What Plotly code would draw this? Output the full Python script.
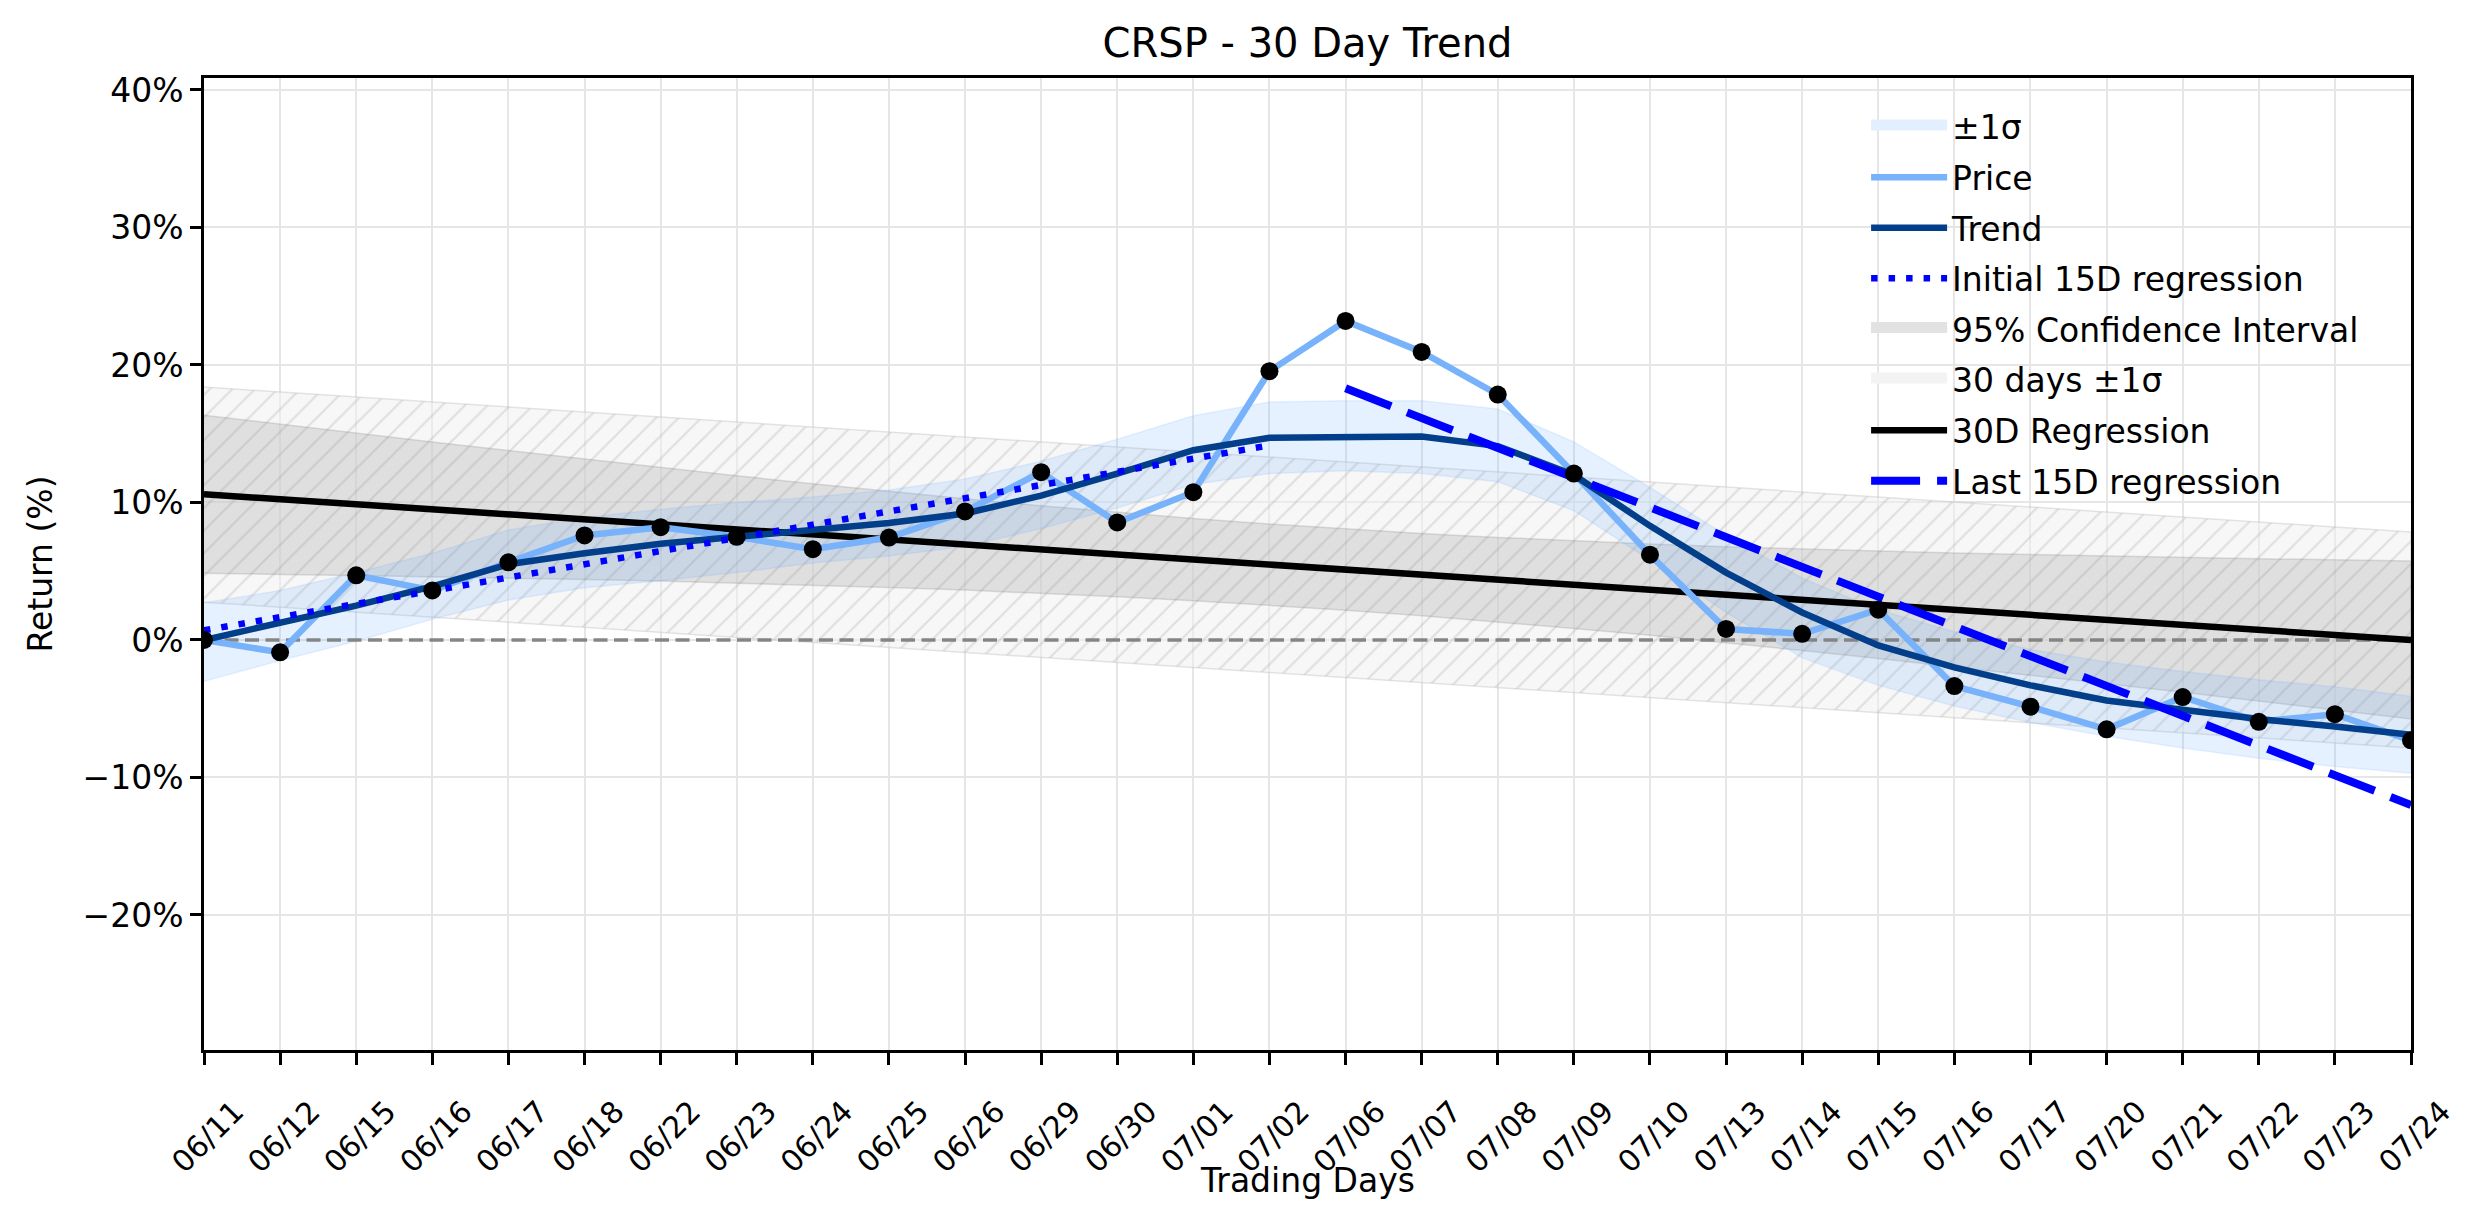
import plotly.graph_objects as go

# ---------------- data ----------------
dates = ["06/11", "06/12", "06/15", "06/16", "06/17", "06/18", "06/22", "06/23",
         "06/24", "06/25", "06/26", "06/29", "06/30", "07/01", "07/02", "07/06",
         "07/07", "07/08", "07/09", "07/10", "07/13", "07/14", "07/15", "07/16",
         "07/17", "07/20", "07/21", "07/22", "07/23", "07/24"]

price = [0.0, -0.9, 4.7, 3.6, 5.65, 7.6, 8.2, 7.5, 6.6, 7.45, 9.35, 12.2, 8.55, 10.75,
         19.55, 23.2, 20.95, 17.85, 12.1, 6.2, 0.8, 0.45, 2.2, -3.35, -4.85, -6.5,
         -4.15, -5.95, -5.4, -7.3]

trend = [0.0, 1.2, 2.5, 3.9, 5.5, 6.3, 7.0, 7.5, 8.0, 8.5, 9.2, 10.5, 12.1, 13.8,
         14.7, 14.8, 14.8, 14.1, 12.0, 8.3, 4.9, 2.0, -0.4, -2.0, -3.3, -4.4, -5.1,
         -5.75, -6.3, -6.9]

sigma_upper = [2.7, 3.6, 4.9, 6.3, 8.0, 8.9, 9.5, 10.0, 10.4, 10.9, 11.7, 13.0, 14.6,
               16.3, 17.3, 17.4, 17.4, 16.8, 14.4, 11.1, 7.6, 4.5, 2.2, 0.6, -0.7,
               -1.6, -2.3, -2.9, -3.4, -4.1]
sigma_lower = [-3.0, -1.5, -0.1, 1.5, 2.9, 3.8, 4.3, 4.9, 5.6, 6.1, 6.8, 8.1, 9.6,
               11.3, 12.1, 12.3, 12.1, 11.5, 9.4, 5.8, 2.0, -1.3, -3.3, -4.8, -6.0,
               -7.0, -7.85, -8.6, -9.2, -9.7]

ci_upper = [16.35, 15.69, 15.05, 14.40, 13.78, 13.15, 12.54, 11.94, 11.37, 10.80,
            10.27, 9.76, 9.28, 8.84, 8.43, 8.07, 7.74, 7.46, 7.20, 6.98, 6.78, 6.61,
            6.46, 6.32, 6.21, 6.10, 6.00, 5.91, 5.83, 5.75]
ci_lower = [4.85, 4.77, 4.69, 4.60, 4.50, 4.39, 4.28, 4.14, 3.99, 3.82, 3.63, 3.40,
            3.14, 2.86, 2.53, 2.17, 1.76, 1.32, 0.84, 0.34, -0.20, -0.77, -1.34, -1.94,
            -2.55, -3.18, -3.80, -4.45, -5.09, -5.75]

reg30_ends = [10.6, 0.0]            # 30D regression, first and last day
hatch_upper_ends = [18.4, 7.85]     # 30 days +1 sigma
hatch_lower_ends = [2.75, -7.85]    # 30 days -1 sigma
init15_ends = [0.7, 14.15]          # initial 15D regression (day 0 .. day 14)
last15_ends = [18.3, -12.0]         # last 15D regression (day 15 .. day 29)
zero_level = 0.0

y_tick_vals = [-20, -10, 0, 10, 20, 30, 40]
y_tick_text = ["\u221220%", "\u221210%", "0%", "10%", "20%", "30%", "40%"]

# ---------------- styles ----------------
FONT = "DejaVu Sans"
SIGMA_FILL = "rgba(100,170,255,0.17)"
SIGMA_EDGE = "rgba(100,170,255,0.14)"
CI_FILL = "rgba(128,128,128,0.2)"
CI_EDGE = "rgba(128,128,128,0.24)"
HATCH_BG = "rgba(240,240,240,0.5)"
HATCH_FG = "rgba(150,150,150,0.5)"
HATCH_EDGE = "rgba(190,190,190,0.4)"

idx = list(range(len(dates)))
first, last = idx[0], idx[-1]

fig = go.Figure()

# 30 days +/-1 sigma (hatched)
fig.add_trace(go.Scatter(
    x=[first, last, last, first], y=hatch_upper_ends + hatch_lower_ends[::-1],
    fill="toself", mode="lines", name="30 days \u00b11\u03c3", showlegend=False,
    line=dict(color=HATCH_EDGE, width=1.5), fillcolor=HATCH_BG,
    fillpattern=dict(shape="/", bgcolor=HATCH_BG, fgcolor=HATCH_FG, size=16,
                     solidity=0.14),
    hoverinfo="skip"))

# 95% confidence interval
fig.add_trace(go.Scatter(
    x=idx + idx[::-1], y=ci_upper + ci_lower[::-1],
    fill="toself", mode="lines", name="95% Confidence Interval", showlegend=False,
    line=dict(color=CI_EDGE, width=1.5), fillcolor=CI_FILL, hoverinfo="skip"))

# +/-1 sigma band around trend
fig.add_trace(go.Scatter(
    x=idx + idx[::-1], y=sigma_upper + sigma_lower[::-1],
    fill="toself", mode="lines", name="\u00b11\u03c3", showlegend=False,
    line=dict(color=SIGMA_EDGE, width=1.5), fillcolor=SIGMA_FILL, hoverinfo="skip"))

# zero reference line
fig.add_trace(go.Scatter(
    x=[first, last], y=[zero_level, zero_level], mode="lines", showlegend=False,
    line=dict(color="rgba(128,128,128,0.95)", width=3.5, dash="14px,6.5px"),
    hoverinfo="skip"))

# 30D regression
fig.add_trace(go.Scatter(
    x=[first, last], y=reg30_ends, mode="lines", name="30D Regression",
    line=dict(color="black", width=6.5), legendrank=7, legendgroup="g7"))

# Price
fig.add_trace(go.Scatter(
    x=idx, y=price, mode="lines", name="Price",
    line=dict(color="#77b2fb", width=6.5), legendrank=2, legendgroup="g2"))

# Trend
fig.add_trace(go.Scatter(
    x=idx, y=trend, mode="lines", name="Trend",
    line=dict(color="#023e8a", width=6.5), legendrank=3, legendgroup="g3"))

# Initial 15D regression
fig.add_trace(go.Scatter(
    x=[idx[0], idx[14]], y=init15_ends, mode="lines", name="Initial 15D regression",
    line=dict(color="#0000ff", width=6.5, dash="6.5px,11px"), legendrank=4,
    legendgroup="g4"))

# Last 15D regression
fig.add_trace(go.Scatter(
    x=[idx[15], idx[-1]], y=last15_ends, mode="lines", name="Last 15D regression",
    line=dict(color="#0000ff", width=8, dash="49px,17px"), legendrank=8,
    legendgroup="g8"))

# price markers
fig.add_trace(go.Scatter(
    x=idx, y=price, mode="markers", showlegend=False,
    marker=dict(color="black", size=18)))

# legend entries for the filled areas (wide swatches)
swatches = [
    ("\u00b11\u03c3", "#e2effe", 1),
    ("95% Confidence Interval", "#e2e2e2", 5),
    ("30 days \u00b11\u03c3", "#f3f3f3", 6),
]
for name, col, rank in swatches:
    fig.add_trace(go.Scatter(
        x=[None], y=[None], mode="lines", name=name, fill="toself", fillcolor=col,
        line=dict(color=col, width=22), legendrank=rank, legendgroup="g%d" % rank,
        hoverinfo="skip"))

fig.update_layout(
    width=2474, height=1224,
    margin=dict(l=204, r=63, t=78, b=174, autoexpand=False),
    paper_bgcolor="white", plot_bgcolor="white",
    font=dict(family=FONT, color="black", size=33),
    title=dict(text="CRSP - 30 Day Trend", x=0.5, xref="paper", y=1 - 43 / 1224,
               yref="container", xanchor="center", yanchor="middle",
               font=dict(size=40, family=FONT, color="black")),
    showlegend=True,
    legend=dict(x=0.7531, y=0.9788, xanchor="left", yanchor="top",
                bgcolor="rgba(0,0,0,0)", borderwidth=0,
                font=dict(size=33, family=FONT, color="black"),
                itemwidth=76, tracegroupgap=4.7, traceorder="grouped"),
    annotations=[dict(text="Trading Days", xref="paper", yref="paper", x=0.5, y=0,
                      xanchor="center", yanchor="middle", yshift=-130,
                      showarrow=False,
                      font=dict(size=33, family=FONT, color="black"))],
)

fig.update_xaxes(
    range=[first, last], tickmode="array", tickvals=idx, ticktext=dates,
    tickangle=-45, tickfont=dict(size=30, family=FONT, color="black"),
    ticks="outside", ticklen=12, tickwidth=2.7, tickcolor="black",
    showline=True, linecolor="black", linewidth=2.7, mirror=True,
    showgrid=True, gridcolor="#e6e6e6", gridwidth=2,
    zeroline=False, ticklabelshift=31, ticklabelstandoff=17,
)
fig.update_yaxes(
    range=[-29.82, 40.87], tickmode="array", tickvals=y_tick_vals, ticktext=y_tick_text,
    tickfont=dict(size=33, family=FONT, color="black"),
    ticks="outside", ticklen=11, tickwidth=2.7, tickcolor="black",
    showline=True, linecolor="black", linewidth=2.7, mirror=True,
    showgrid=True, gridcolor="#e6e6e6", gridwidth=2,
    zeroline=False,
    title=dict(text="Return (%)", font=dict(size=33, family=FONT, color="black"),
               standoff=20),
)

fig.write_html("out.html")
